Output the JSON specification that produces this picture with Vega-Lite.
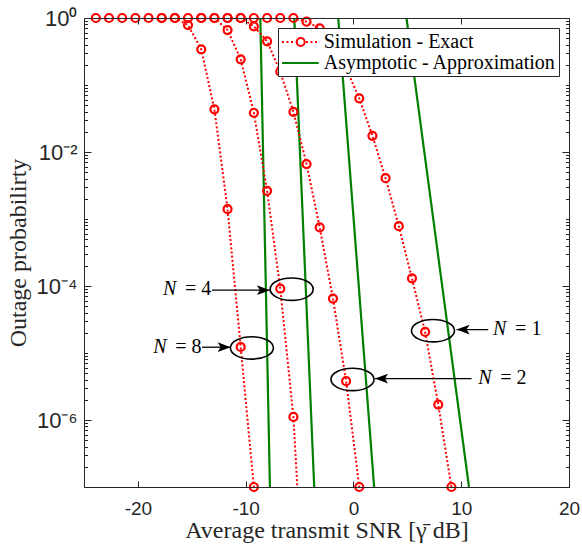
{
  "$schema": "https://vega.github.io/schema/vega-lite/v6.json",
  "width": 485,
  "height": 469,
  "autosize": {"type": "none"},
  "padding": {"left": 84, "top": 18, "right": 13, "bottom": 57},
  "background": "white",
  "datasets": {
    "sim": [
      {"N": 1, "x": -25.12, "p": 1}, {"N": 1, "x": -23.9, "p": 1}, {"N": 1, "x": -22.68, "p": 1}, {"N": 1, "x": -21.46, "p": 1},
      {"N": 1, "x": -20.23, "p": 1}, {"N": 1, "x": -19.01, "p": 1}, {"N": 1, "x": -17.79, "p": 1}, {"N": 1, "x": -16.57, "p": 1},
      {"N": 1, "x": -15.35, "p": 1}, {"N": 1, "x": -14.12, "p": 1}, {"N": 1, "x": -12.9, "p": 1}, {"N": 1, "x": -11.68, "p": 1},
      {"N": 1, "x": -10.46, "p": 1}, {"N": 1, "x": -9.24, "p": 1}, {"N": 1, "x": -8.01, "p": 1}, {"N": 1, "x": -6.79, "p": 1},
      {"N": 1, "x": -5.57, "p": 1}, {"N": 1, "x": -4.35, "p": 0.881}, {"N": 1, "x": -3.13, "p": 0.701}, {"N": 1, "x": -1.9, "p": 0.417},
      {"N": 1, "x": -0.68, "p": 0.178}, {"N": 1, "x": 0.54, "p": 0.0632}, {"N": 1, "x": 1.76, "p": 0.01746}, {"N": 1, "x": 2.98, "p": 0.00407},
      {"N": 1, "x": 4.21, "p": 7.82e-4}, {"N": 1, "x": 5.43, "p": 1.3e-4}, {"N": 1, "x": 6.65, "p": 2.06e-5}, {"N": 1, "x": 7.87, "p": 1.7e-6},
      {"N": 1, "x": 9.09, "p": 1e-7},
      {"N": 2, "x": -11.68, "p": 1}, {"N": 2, "x": -10.46, "p": 1}, {"N": 2, "x": -9.24, "p": 0.751}, {"N": 2, "x": -8.01, "p": 0.449},
      {"N": 2, "x": -6.79, "p": 0.158}, {"N": 2, "x": -5.57, "p": 0.0398}, {"N": 2, "x": -4.35, "p": 0.0066}, {"N": 2, "x": -3.13, "p": 7.48e-4},
      {"N": 2, "x": -1.9, "p": 6.5e-5}, {"N": 2, "x": -0.68, "p": 3.8e-6}, {"N": 2, "x": 0.54, "p": 1e-7},
      {"N": 4, "x": -14.12, "p": 1}, {"N": 4, "x": -12.9, "p": 1}, {"N": 4, "x": -11.68, "p": 0.661}, {"N": 4, "x": -10.46, "p": 0.2415},
      {"N": 4, "x": -9.24, "p": 0.0385}, {"N": 4, "x": -8.01, "p": 0.00263}, {"N": 4, "x": -6.79, "p": 9.12e-5}, {"N": 4, "x": -5.57, "p": 1.11e-6},
      {"N": 4, "x": -4.35, "p": 3.5e-10},
      {"N": 8, "x": -17.79, "p": 1}, {"N": 8, "x": -16.57, "p": 1}, {"N": 8, "x": -15.35, "p": 0.785}, {"N": 8, "x": -14.12, "p": 0.341},
      {"N": 8, "x": -12.9, "p": 0.0433}, {"N": 8, "x": -11.68, "p": 0.0014}, {"N": 8, "x": -10.46, "p": 1.23e-5}, {"N": 8, "x": -9.24, "p": 1e-7}
    ],
    "asy": [
      {"N": 8, "x": -8.64, "p": 1}, {"N": 8, "x": -7.75, "p": 1e-7},
      {"N": 4, "x": -5.49, "p": 1}, {"N": 4, "x": -3.64, "p": 1e-7},
      {"N": 2, "x": -1.41, "p": 1}, {"N": 2, "x": 1.92, "p": 1e-7},
      {"N": 1, "x": 4.92, "p": 1}, {"N": 1, "x": 10.72, "p": 1e-7}
    ],
    "ell": [
      {"N": 4, "x": -5.73, "p": 8.95e-5}, {"N": 8, "x": -9.42, "p": 1.19e-5},
      {"N": 1, "x": 7.38, "p": 2.15e-5}, {"N": 2, "x": -0.09, "p": 4.03e-6}
    ],
    "arrow": [
      {"N": 4, "x": -13.13, "x2": -7.75, "p": 8.65e-5, "dir": "right"},
      {"N": 8, "x": -14.05, "x2": -11.39, "p": 1.22e-5, "dir": "right"},
      {"N": 1, "x": 12.5, "x2": 9.57, "p": 2.24e-5, "dir": "left"},
      {"N": 2, "x": 10.96, "x2": 2.0, "p": 4.15e-6, "dir": "left"}
    ],
    "lab": [
      {"N": 4, "x": -17.67, "p": 8.87e-5, "n": "N", "rest": "= 4"},
      {"N": 8, "x": -18.57, "p": 1.23e-5, "n": "N", "rest": "= 8"},
      {"N": 1, "x": 12.96, "p": 2.26e-5, "n": "N", "rest": "= 1"},
      {"N": 2, "x": 11.57, "p": 4.2e-6, "n": "N", "rest": "= 2"}
    ]
  },
  "layer": [
    {
      "data": {"name": "asy"},
      "mark": {"type": "line", "strokeWidth": 2.2, "clip": true},
      "encoding": {
        "x": {
          "field": "x", "type": "quantitative",
          "scale": {"domain": [-25, 20], "nice": false, "zero": false},
          "axis": {
            "orient": "bottom", "values": [-20, -10, 0, 10, 20], "labelExpr": "'' + datum.value",
            "domain": false, "ticks": false, "zindex": 1,
            "labelPadding": 12, "labelFont": "Liberation Sans", "labelFontSize": 19,
            "labelColor": "#262626", "labelFlush": false, "labelOverlap": false, "grid": false,
            "title": "Average transmit SNR [γ̄ dB]", "titleFont": "Liberation Serif", "titleFontSize": 24,
            "titleFontWeight": "normal", "titleColor": "#262626", "titlePadding": 0
          }
        },
        "y": {
          "field": "p", "type": "quantitative",
          "scale": {"type": "log", "domain": [1e-7, 1], "nice": false},
          "axis": {
            "orient": "left",
            "values": [1e-7, 1e-6, 1e-5, 1e-4, 0.001, 0.01, 0.1, 1],
            "labelExpr": "datum.value == 1 ? '10⁰' : datum.value == 0.01 ? '10⁻²' : datum.value == 0.0001 ? '10⁻⁴' : datum.value == 0.000001 ? '10⁻⁶' : ''",
            "domain": false, "ticks": false, "zindex": 1,
            "labelPadding": 7, "labelFont": "Liberation Sans", "labelFontSize": 22, "labelColor": "#262626",
            "labelOverlap": false, "labelFlush": false, "grid": false,
            "title": "Outage probabilirty", "titleFont": "Liberation Serif", "titleFontSize": 24,
            "titleFontWeight": "normal", "titleColor": "#262626", "titlePadding": 6
          }
        },
        "detail": {"field": "N", "type": "nominal"},
        "color": {
          "datum": "Asymptotic - Approximation", "type": "nominal",
          "scale": {"domain": ["Simulation - Exact", "Asymptotic - Approximation"], "range": ["#ff0000", "#008000"]},
          "legend": {
            "title": null, "orient": "top-right", "offset": 10, "fillColor": "white", "strokeColor": "#262626",
            "padding": 3, "rowPadding": 0, "labelFont": "Liberation Serif", "labelFontSize": 20, "labelColor": "black",
            "labelOffset": 20.7, "labelLimit": 500, "symbolSize": 400, "symbolStrokeWidth": 2,
            "symbolFillColor": "transparent",
            "symbolType": {"expr": "datum.value === 'Simulation - Exact' ? 'M-1,0h0.2M-0.55,0h0.2M-0.1,0h0.2M1.4,0h0.2M1.85,0h0.2M2.3,0h0.2M1.27,0C1.27,0.2209 1.0909,0.4 0.87,0.4C0.6491,0.4 0.47,0.2209 0.47,0C0.47,-0.2209 0.6491,-0.4 0.87,-0.4C1.0909,-0.4 1.27,-0.2209 1.27,0Z' : 'M-1,0H2.67'"}
          }
        }
      }
    },
    {
      "data": {"name": "sim"},
      "mark": {"type": "line", "strokeDash": [2, 2.2], "strokeWidth": 2, "clip": true},
      "encoding": {
        "x": {
          "field": "x", "type": "quantitative",
          "scale": {"domain": [-25, 20], "nice": false, "zero": false},
          "axis": {"orient": "top", "offset": -469, "values": [-20, -10, 0, 10, 20], "labels": false, "tickSize": 6,
                   "domain": true, "ticks": true, "zindex": 1, "domainWidth": 1, "tickWidth": 1,
                   "tickColor": "#262626", "domainColor": "#262626", "grid": false, "title": null}
        },
        "y": {
          "field": "p", "type": "quantitative",
          "scale": {"type": "log", "domain": [1e-7, 1], "nice": false},
          "axis": {
            "orient": "right", "offset": -485,
            "values": [1e-7,2e-7,3e-7,4e-7,5e-7,6e-7,7e-7,8e-7,9e-7,1e-6,2e-6,3e-6,4e-6,5e-6,6e-6,7e-6,8e-6,9e-6,1e-5,2e-5,3e-5,4e-5,5e-5,6e-5,7e-5,8e-5,9e-5,1e-4,2e-4,3e-4,4e-4,5e-4,6e-4,7e-4,8e-4,9e-4,0.001,0.002,0.003,0.004,0.005,0.006,0.007,0.008,0.009,0.01,0.02,0.03,0.04,0.05,0.06,0.07,0.08,0.09,0.1,0.2,0.3,0.4,0.5,0.6,0.7,0.8,0.9,1],
            "labels": false,
            "domain": true, "ticks": true, "zindex": 1, "domainWidth": 1, "tickWidth": 1,
            "tickSize": {"condition": {"test": "datum.value == 1 || datum.value == 0.01 || datum.value == 0.0001 || datum.value == 0.000001", "value": 7}, "value": 3.5},
            "tickColor": "#262626", "domainColor": "#262626", "grid": false, "title": null
          }
        },
        "detail": {"field": "N", "type": "nominal"},
        "color": {"datum": "Simulation - Exact", "type": "nominal"}
      }
    },
    {
      "data": {"name": "sim"},
      "transform": [{"filter": "datum.x > -25 && datum.p >= 1e-7"}],
      "mark": {"type": "point", "shape": "circle", "filled": false, "color": "#ff0000", "strokeWidth": 2.2, "size": 64, "opacity": 1},
      "encoding": {
        "x": {
          "field": "x", "type": "quantitative",
          "axis": {"orient": "bottom", "offset": -469, "values": [-20, -10, 0, 10, 20], "labels": false, "tickSize": 6,
                   "domain": true, "ticks": true, "zindex": 1, "domainWidth": 1, "tickWidth": 1,
                   "tickColor": "#262626", "domainColor": "#262626", "grid": false, "title": null}
        },
        "y": {
          "field": "p", "type": "quantitative",
          "axis": {
            "orient": "left", "offset": -485,
            "values": [1e-7,2e-7,3e-7,4e-7,5e-7,6e-7,7e-7,8e-7,9e-7,1e-6,2e-6,3e-6,4e-6,5e-6,6e-6,7e-6,8e-6,9e-6,1e-5,2e-5,3e-5,4e-5,5e-5,6e-5,7e-5,8e-5,9e-5,1e-4,2e-4,3e-4,4e-4,5e-4,6e-4,7e-4,8e-4,9e-4,0.001,0.002,0.003,0.004,0.005,0.006,0.007,0.008,0.009,0.01,0.02,0.03,0.04,0.05,0.06,0.07,0.08,0.09,0.1,0.2,0.3,0.4,0.5,0.6,0.7,0.8,0.9,1],
            "labels": false,
            "domain": true, "ticks": true, "zindex": 1, "domainWidth": 1, "tickWidth": 1,
            "tickSize": {"condition": {"test": "datum.value == 1 || datum.value == 0.01 || datum.value == 0.0001 || datum.value == 0.000001", "value": 7}, "value": 3.5},
            "tickColor": "#262626", "domainColor": "#262626", "grid": false, "title": null
          }
        }
      }
    },
    {
      "data": {"name": "ell"},
      "mark": {"type": "point", "shape": "M1,0C1,0.2872 0.5523,0.52 0,0.52C-0.5523,0.52 -1,0.2872 -1,0C-1,-0.2872 -0.5523,-0.52 0,-0.52C0.5523,-0.52 1,-0.2872 1,0Z", "filled": false, "color": "black", "strokeWidth": 1.6, "size": 1849, "opacity": 1},
      "encoding": {
        "x": {"field": "x", "type": "quantitative", "axis": null},
        "y": {"field": "p", "type": "quantitative", "axis": null}
      }
    },
    {
      "data": {"name": "arrow"},
      "mark": {"type": "rule", "color": "black", "strokeWidth": 1.3},
      "encoding": {
        "x": {"field": "x", "type": "quantitative", "axis": null},
        "x2": {"field": "x2"},
        "y": {"field": "p", "type": "quantitative", "axis": null}
      }
    },
    {
      "data": {"name": "arrow"},
      "mark": {"type": "point", "filled": true, "color": "black", "size": 169, "opacity": 1},
      "encoding": {
        "x": {"field": "x2", "type": "quantitative", "axis": null},
        "y": {"field": "p", "type": "quantitative", "axis": null},
        "shape": {
          "field": "dir", "type": "nominal",
          "scale": {"domain": ["right", "left"], "range": ["M0,0L-2,-0.75L-1.55,0L-2,0.75Z", "M0,0L2,-0.75L1.55,0L2,0.75Z"]},
          "legend": null
        }
      }
    },
    {
      "data": {"name": "lab"},
      "mark": {"type": "text", "align": "left", "baseline": "middle", "font": "Liberation Serif", "fontSize": 20, "fontStyle": "italic", "color": "black"},
      "encoding": {
        "x": {"field": "x", "type": "quantitative", "axis": null},
        "y": {"field": "p", "type": "quantitative", "axis": null},
        "text": {"field": "n"}
      }
    },
    {
      "data": {"name": "lab"},
      "mark": {"type": "text", "align": "left", "baseline": "middle", "font": "Liberation Serif", "fontSize": 20, "dx": 22, "color": "black"},
      "encoding": {
        "x": {"field": "x", "type": "quantitative", "axis": null},
        "y": {"field": "p", "type": "quantitative", "axis": null},
        "text": {"field": "rest"}
      }
    }
  ],
  "resolve": {"axis": {"x": "independent", "y": "independent"}},
  "config": {"view": {"stroke": null}, "axis": {"grid": false}}
}
